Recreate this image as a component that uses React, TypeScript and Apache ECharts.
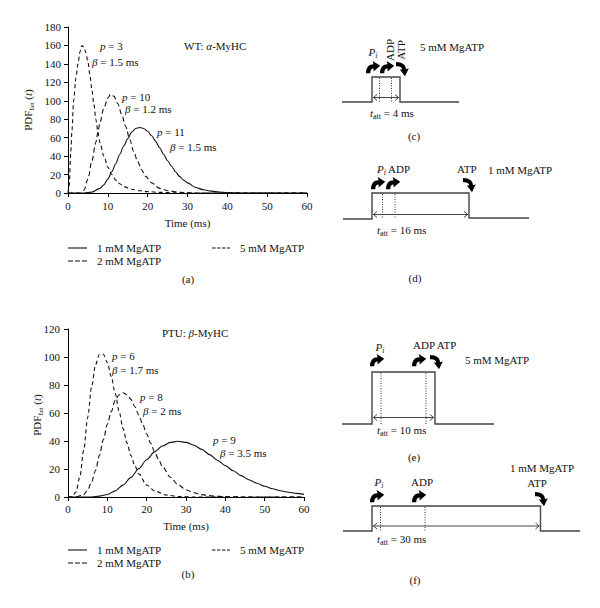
import React, { useEffect, useRef } from "react";
import * as echarts from "echarts";

// ---------- data ----------
const xTicks = [0, 10, 20, 30, 40, 50, 60];
const seriesNames = ["1 mM MgATP", "2 mM MgATP", "5 mM MgATP"];

// (a) WT: alpha-MyHC
const wt1mM: number[][] = [
  [0, 0], [4, 0], [6, 1], [8, 5], [9, 9], [10, 15], [11, 23], [12, 32], [13, 42], [14, 51],
  [15, 59], [16, 66], [17, 70], [18, 71], [19, 70], [20, 67], [21, 62], [22, 56], [23, 49],
  [24, 42], [25, 35], [26, 29], [27, 23], [28, 18], [29, 14], [30, 11], [32, 6], [34, 3.5],
  [36, 2], [38, 1], [40, 0.5], [45, 0], [60, 0],
];
const wt2mM: number[][] = [
  [0, 0], [3, 0], [4, 3], [5, 15], [6, 35], [7, 55], [7.5, 66], [8, 76], [9, 92], [10, 103],
  [10.7, 107], [11.5, 105], [12.5, 97], [13.5, 85], [14.5, 72], [15.5, 58], [16.5, 45],
  [17.5, 34], [18.5, 25], [19.5, 18], [21, 11], [23, 5], [25, 2.5], [28, 0.8], [32, 0], [60, 0],
];
const wt5mM: number[][] = [
  [0, 0], [0.3, 8], [0.7, 45], [1, 68], [1.4, 100], [2, 125], [2.5, 140], [3, 153], [3.5, 160],
  [4, 158], [4.5, 152], [5, 142], [5.5, 128], [6, 112], [6.5, 96], [7, 80], [7.5, 66], [8, 55],
  [9, 40], [10, 28], [11, 20], [12, 14], [13, 10], [14, 7], [16, 4], [18, 2.5], [20, 1.5],
  [23, 0.7], [27, 0.2], [30, 0], [60, 0],
];

// (b) PTU: beta-MyHC
const ptu1mM: number[][] = [
  [0, 0], [6, 0], [8, 0.6], [10, 1.8], [12, 4.4], [14, 8.5], [16, 14], [18, 20.3], [20, 26.6],
  [22, 32.2], [24, 36.4], [26, 39], [28, 39.8], [30, 39], [32, 37], [34, 34], [36, 30.3],
  [38, 26.3], [40, 22.4], [42, 18.7], [44, 15.3], [46, 12.3], [48, 9.8], [50, 7.7], [52, 5.9],
  [54, 4.5], [56, 3.4], [58, 2.6], [60, 1.9],
];
const ptu2mM: number[][] = [
  [0, 0], [2, 0], [4, 1.7], [5, 5], [6, 10.8], [7, 19], [8, 29.8], [9, 41], [10, 52], [11, 61],
  [12, 69], [13, 73], [14, 74.5], [15, 73], [16, 69.7], [17, 64.5], [18, 58.6], [19, 52],
  [20, 45], [21, 38.5], [22, 32.3], [23, 27], [24, 21.8], [26, 14.1], [28, 8.7], [30, 5.2],
  [32, 3], [34, 1.7], [37, 0.6], [40, 0.26], [45, 0], [60, 0],
];
const ptu5mM: number[][] = [
  [0, 0], [1, 0.2], [2, 3.4], [3, 14.3], [4, 33.6], [5, 57], [6, 78.7], [7, 94.5], [8, 102],
  [9, 102], [10, 96], [11, 86], [12, 74], [13, 61], [14, 49], [15, 38.5], [16, 29.6], [17, 22.3],
  [18, 16.5], [20, 8.6], [22, 4.3], [25, 1.4], [28, 0.4], [32, 0], [60, 0],
];

const SERIF = "'Liberation Serif','Times New Roman',serif";
const INK = "#111";

echarts.graphic.registerShape(
  "releaseArrow",
  echarts.graphic.extendPath("M0,13 C0,7 3,3.5 8,3.5 L7,0 L15,5 L8,11 L8,8 C5.5,8 4.5,10 4.5,13 Z", {})
);
echarts.graphic.registerShape(
  "bindArrow",
  echarts.graphic.extendPath("M0,0 C6.5,0 10.5,3 10.5,7.5 L13.5,6.5 L9.5,15 L4,8 L6.5,8 C6.5,5.5 4,4 0,4.5 Z", {})
);

const rich = {
  n: { fontFamily: SERIF, fontSize: 11, lineHeight: 14, fill: INK },
  i: { fontFamily: SERIF, fontSize: 11, lineHeight: 14, fontStyle: "italic", fill: INK },
  s: { fontFamily: SERIF, fontSize: 8, lineHeight: 6, verticalAlign: "bottom", fill: INK },
  si: { fontFamily: SERIF, fontSize: 8, lineHeight: 6, fontStyle: "italic", verticalAlign: "bottom", fill: INK },
  ss: { fontFamily: SERIF, fontSize: 6, lineHeight: 4, verticalAlign: "bottom", fill: INK },
};

function txt(x: number, y: number, text: string, align = "left", extra: any = {}) {
  return {
    type: "text",
    x,
    y,
    silent: true,
    ...extra,
    style: {
      text,
      rich,
      fontFamily: SERIF,
      fontSize: 11,
      fill: INK,
      align,
      verticalAlign: "middle",
    },
  };
}

function legendLine(x1: number, x2: number, y: number, dash: number[] | null) {
  return {
    type: "line",
    silent: true,
    shape: { x1, y1: y, x2, y2: y },
    style: { stroke: INK, lineWidth: 1.1, lineDash: dash || undefined },
  };
}

const LINE = "#444";

function diagram(d: any) {
  const els: any[] = [];
  els.push({
    type: "polyline",
    silent: true,
    shape: {
      points: [
        [d.x0, d.yb], [d.xl, d.yb], [d.xl, d.yt], [d.xr, d.yt], [d.xr, d.yb2], [d.x1, d.yb2],
      ],
    },
    style: { stroke: LINE, lineWidth: 1.4, fill: null },
  });
  d.dots.forEach((x: number) =>
    els.push({
      type: "line",
      silent: true,
      shape: { x1: x, y1: d.yt + 1, x2: x, y2: d.yb },
      style: { stroke: "#333", lineWidth: 1, lineDash: [1, 1.5] },
    })
  );
  els.push({
    type: "line",
    silent: true,
    shape: { x1: d.xl + 1, y1: d.ay, x2: d.xr - 1, y2: d.ay },
    style: { stroke: LINE, lineWidth: 1 },
  });
  els.push({
    type: "polyline",
    silent: true,
    shape: { points: [[d.xl + 5, d.ay - 3], [d.xl + 1.5, d.ay], [d.xl + 5, d.ay + 3]] },
    style: { stroke: LINE, lineWidth: 1, fill: null },
  });
  els.push({
    type: "polyline",
    silent: true,
    shape: { points: [[d.xr - 5, d.ay - 3], [d.xr - 1.5, d.ay], [d.xr - 5, d.ay + 3]] },
    style: { stroke: LINE, lineWidth: 1, fill: null },
  });
  d.release.forEach((p: number[]) =>
    els.push({ type: "releaseArrow", x: p[0], y: p[1], scaleX: 0.95, scaleY: 0.95, silent: true, style: { fill: "#000" } })
  );
  d.bind.forEach((p: number[]) =>
    els.push({ type: "bindArrow", x: p[0], y: p[1], scaleX: 0.95, scaleY: 0.95, silent: true, style: { fill: "#000" } })
  );
  els.push(txt(d.tx, d.ty, `{i|t}{s|att}{n| = ${d.tatt} ms}`));
  els.push(txt(d.lx, d.ly, `{n|(${d.letter})}`, "center"));
  return els;
}

function buildOption() {
  const axisCommon = {
    axisLine: { show: true, lineStyle: { color: "#000", width: 1 } },
    axisTick: { show: true, inside: false, length: 4, lineStyle: { color: "#000" } },
    splitLine: { show: false },
  };
  const labelStyle = { fontFamily: SERIF, fontSize: 11, color: INK };

  const graphics: any[] = [];

  // y-axis names
  const yName = "{n|PDF}{si|t}{ss|att}{n| (}{i|t}{n|)}";
  graphics.push(txt(28, 110, yName, "center", { rotation: Math.PI / 2 }));
  graphics.push(txt(37, 415, yName, "center", { rotation: Math.PI / 2 }));

  // (a) annotations
  graphics.push(txt(184, 46, "{n|WT: }{i|α}{n|-MyHC}"));
  graphics.push(txt(100, 46, "{i|p}{n| = 3}"));
  graphics.push(txt(92, 62, "{i|β}{n| = 1.5 ms}"));
  graphics.push(txt(122, 97, "{i|p}{n| = 10}"));
  graphics.push(txt(125, 109, "{i|β}{n| = 1.2 ms}"));
  graphics.push(txt(157, 132, "{i|p}{n| = 11}"));
  graphics.push(txt(170, 147, "{i|β}{n| = 1.5 ms}"));

  // (b) annotations
  graphics.push(txt(162, 333, "{n|PTU: }{i|β}{n|-MyHC}"));
  graphics.push(txt(112, 356, "{i|p}{n| = 6}"));
  graphics.push(txt(112, 370, "{i|β}{n| = 1.7 ms}"));
  graphics.push(txt(140, 397, "{i|p}{n| = 8}"));
  graphics.push(txt(143, 411, "{i|β}{n| = 2 ms}"));
  graphics.push(txt(213, 440, "{i|p}{n| = 9}"));
  graphics.push(txt(220, 453, "{i|β}{n| = 3.5 ms}"));

  // legends
  [[248, 261, 279], [550, 563, 574]].forEach(([r1, r2, cap], k) => {
    graphics.push(legendLine(68, 87, r1, null));
    graphics.push(txt(97, r1, `{n|${seriesNames[0]}}`));
    graphics.push(legendLine(212, 230, r1, [3.5, 1.5]));
    graphics.push(txt(240, r1, `{n|${seriesNames[2]}}`));
    graphics.push(legendLine(68, 87, r2, [5, 2]));
    graphics.push(txt(97, r2, `{n|${seriesNames[1]}}`));
    graphics.push(txt(188, cap, k === 0 ? "{n|(a)}" : "{n|(b)}", "center"));
  });

  // right-hand diagrams
  const diags = [
    {
      x0: 342, xl: 372, xr: 400, x1: 459, yb: 102, yb2: 102, yt: 77, dots: [379.5, 391.5], ay: 97.5,
      release: [[366, 61], [380, 61]], bind: [[396, 62]], tatt: 4, tx: 370, ty: 113, letter: "c", lx: 414, ly: 136,
    },
    {
      x0: 343, xl: 372, xr: 469, x1: 529, yb: 219, yb2: 218, yt: 193, dots: [382.5, 395], ay: 214.5,
      release: [[371, 177], [386, 177]], bind: [[463, 178]], tatt: 16, tx: 377, ty: 230, letter: "d", lx: 415, ly: 278,
    },
    {
      x0: 342, xl: 372, xr: 435, x1: 494, yb: 424, yb2: 424, yt: 372, dots: [381, 426], ay: 417.5,
      release: [[370, 354], [412, 354]], bind: [[430, 355]], tatt: 10, tx: 377, ty: 430, letter: "e", lx: 414, ly: 457,
    },
    {
      x0: 343, xl: 372, xr: 540.5, x1: 580, yb: 531, yb2: 531, yt: 506, dots: [380.5, 425], ay: 526,
      release: [[370, 490], [412, 490]], bind: [[535, 492]], tatt: 30, tx: 377, ty: 539, letter: "f", lx: 415, ly: 580,
    },
  ];
  diags.forEach((d) => graphics.push(...diagram(d)));

  // (c) labels
  graphics.push(txt(373, 52, "{i|P}{si|i}", "center"));
  graphics.push(txt(389.5, 50, "{n|ADP}", "center", { rotation: Math.PI / 2 }));
  graphics.push(txt(400.5, 50, "{n|ATP}", "center", { rotation: Math.PI / 2 }));
  graphics.push(txt(420, 47, "{n|5 mM MgATP}"));
  // (d) labels
  graphics.push(txt(377, 169, "{i|P}{si|i}{n| ADP}"));
  graphics.push(txt(457, 169, "{n|ATP}"));
  graphics.push(txt(488, 170, "{n|1 mM MgATP}"));
  // (e) labels
  graphics.push(txt(380, 347, "{i|P}{si|i}", "center"));
  graphics.push(txt(413, 345, "{n|ADP ATP}"));
  graphics.push(txt(465, 360, "{n|5 mM MgATP}"));
  // (f) labels
  graphics.push(txt(379, 482, "{i|P}{si|i}", "center"));
  graphics.push(txt(422, 482, "{n|ADP}", "center"));
  graphics.push(txt(537, 483, "{n|ATP}", "center"));
  graphics.push(txt(510, 468, "{n|1 mM MgATP}"));

  const mkSeries = (name: string, data: number[][], idx: number, dash: number[] | null) => ({
    name,
    type: "line",
    xAxisIndex: idx,
    yAxisIndex: idx,
    data,
    showSymbol: false,
    smooth: 0.3,
    smoothMonotone: "x",
    lineStyle: { color: INK, width: 1.1, type: dash || "solid" },
    z: 3,
  });

  return {
    animation: false,
    backgroundColor: "#fff",
    textStyle: { fontFamily: SERIF },
    grid: [
      { left: 68, top: 27, width: 239, height: 166 },
      { left: 68, top: 329, width: 236, height: 168 },
    ],
    xAxis: [0, 1].map((g) => ({
      type: "value",
      gridIndex: g,
      min: xTicks[0],
      max: xTicks[xTicks.length - 1],
      interval: 10,
      name: "Time (ms)",
      nameLocation: "middle",
      nameGap: g === 0 ? 24 : 23,
      nameTextStyle: { fontFamily: SERIF, fontSize: 11, color: INK },
      ...axisCommon,
      axisLabel: { ...labelStyle, margin: g === 0 ? 7 : 6 },
    })),
    yAxis: [
      {
        type: "value", gridIndex: 0, min: 0, max: 180, interval: 20, ...axisCommon,
        axisLabel: { ...labelStyle, margin: 7 },
      },
      {
        type: "value", gridIndex: 1, min: 0, max: 120, interval: 20, ...axisCommon,
        axisLabel: { ...labelStyle, margin: 8 },
      },
    ],
    series: [
      mkSeries(seriesNames[0], wt1mM, 0, null),
      mkSeries(seriesNames[1], wt2mM, 0, [5, 3]),
      mkSeries(seriesNames[2], wt5mM, 0, [4, 3]),
      mkSeries(seriesNames[0], ptu1mM, 1, null),
      mkSeries(seriesNames[1], ptu2mM, 1, [5, 3]),
      mkSeries(seriesNames[2], ptu5mM, 1, [4, 3]),
    ],
    graphic: graphics,
  };
}

export default function App() {
  const ref = useRef<HTMLDivElement>(null);
  useEffect(() => {
    if (!ref.current) return;
    const chart = echarts.init(ref.current, undefined, { renderer: "svg" });
    chart.setOption(buildOption() as any);
    return () => chart.dispose();
  }, []);
  return (
    <div
      ref={ref}
      style={{ position: "fixed", left: 0, top: 0, width: 600, height: 608, background: "#fff" }}
    />
  );
}
